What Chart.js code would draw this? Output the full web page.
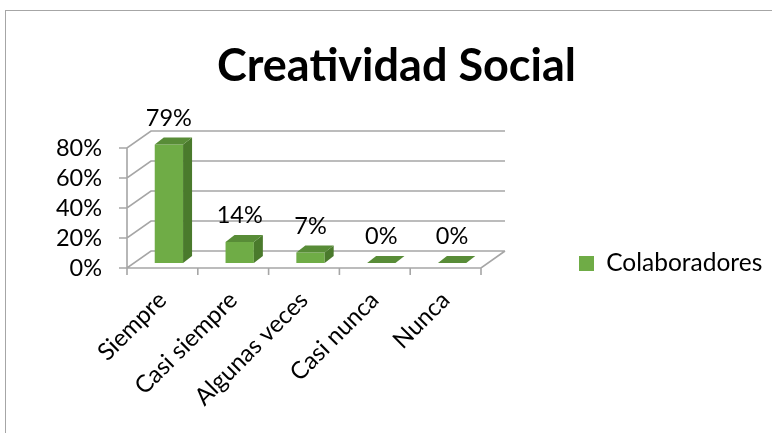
<!DOCTYPE html>
<html>
<head>
<meta charset="utf-8">
<script src="https://cdn.jsdelivr.net/npm/chart.js@4"></script>
<style>
  html, body { margin: 0; padding: 0; background: #fff; overflow: hidden; }
</style>
</head>
<body>
<canvas id="chart" width="772" height="433"></canvas>
<script>
const chartTitle = "Creatividad Social";
const categories = ["Siempre", "Casi siempre", "Algunas veces", "Casi nunca", "Nunca"];
const seriesName = "Colaboradores";
const colaboradores = [79, 14, 7, 0, 0];
const yTicks = [0, 20, 40, 60, 80];

// excel-like fake 3d
const WALL = { x: 24, y: -17 };      // back wall offset
const BAR_SHIFT = { x: 6.5, y: -5 }; // bars sit a bit into the floor
const BAR_DEPTH = { x: 9, y: -7 };
const GREEN = "#6fac46";
const GREEN_TOP = "#588c37";
const GREEN_SIDE = "#4a7a2c";
const FONT = "Lato";
const LEGEND_GAP = 98;   // from plot right edge to legend box
const LEGEND_DY = -2;    // legend centre vs plot bottom

const fake3d = {
  id: "fake3d",
  beforeDraw(chart) {
    const ctx = chart.ctx;
    ctx.save();
    ctx.fillStyle = "#fff";
    ctx.fillRect(0, 0, chart.width, chart.height);
    ctx.strokeStyle = "#a6a6a6";
    ctx.lineWidth = 1;
    ctx.strokeRect(5.5, 10.5, chart.width + 20, chart.height + 20);
    ctx.restore();
  },
  afterLayout(chart) {
    // legend lives in the chart area box, move it to the right of the plot
    const lg = chart.legend, a = chart.chartArea;
    const pad = lg.options.labels.padding;
    const lh = lg.options.labels.font.size * 1.2;
    const dx = a.right + LEGEND_GAP - (lg.left + pad);
    const dy = a.bottom + LEGEND_DY - lh / 2 - (lg.top + pad);
    lg.left += dx; lg.right += dx;
    lg.top += dy; lg.bottom += dy;
  },
  beforeDatasetsDraw(chart) {
    const { ctx, chartArea: a, scales: { x, y } } = chart;
    ctx.save();
    ctx.strokeStyle = "#a6a6a6";
    ctx.lineWidth = 1.6;
    ctx.beginPath();
    y.ticks.forEach(t => {
      const py = y.getPixelForValue(t.value);
      ctx.moveTo(a.left - 8, py);
      ctx.lineTo(a.left, py);
      ctx.lineTo(a.left + WALL.x, py + WALL.y);
      ctx.lineTo(a.right + WALL.x, py + WALL.y);
    });
    ctx.moveTo(a.left, y.getPixelForValue(y.max));
    ctx.lineTo(a.left, a.bottom);
    ctx.lineTo(a.right, a.bottom);
    ctx.lineTo(a.right + WALL.x, a.bottom + WALL.y);
    for (let i = 0; i <= categories.length; i++) {
      const px = x.getPixelForValue(i - 0.5);
      ctx.moveTo(px, a.bottom);
      ctx.lineTo(px, a.bottom + 7);
    }
    ctx.stroke();
    ctx.restore();

    ctx.save();
    ctx.translate(BAR_SHIFT.x, BAR_SHIFT.y);
  },
  afterDatasetsDraw(chart) {
    const ctx = chart.ctx;
    const meta = chart.getDatasetMeta(0);
    meta.data.forEach(bar => {
      const { x, y, base, width } = bar.getProps(["x", "y", "base", "width"], true);
      const l = x - width / 2, r = x + width / 2;
      const dx = BAR_DEPTH.x, dy = BAR_DEPTH.y;
      ctx.fillStyle = GREEN_SIDE;
      ctx.beginPath();
      ctx.moveTo(r, y);
      ctx.lineTo(r + dx, y + dy);
      ctx.lineTo(r + dx, base + dy);
      ctx.lineTo(r, base);
      ctx.closePath();
      ctx.fill();
      ctx.fillStyle = GREEN_TOP;
      ctx.beginPath();
      ctx.moveTo(l, y);
      ctx.lineTo(l + dx, y + dy);
      ctx.lineTo(r + dx, y + dy);
      ctx.lineTo(r, y);
      ctx.closePath();
      ctx.fill();
    });
    ctx.restore();

    // value labels
    ctx.save();
    ctx.font = "23.5px " + FONT;
    ctx.fillStyle = "#000";
    ctx.textAlign = "center";
    ctx.textBaseline = "alphabetic";
    meta.data.forEach((bar, i) => {
      ctx.fillText(colaboradores[i] + "%", bar.x + BAR_SHIFT.x, bar.y + BAR_SHIFT.y - 19);
    });
    ctx.restore();
  }
};

new Chart(document.getElementById("chart"), {
  type: "bar",
  data: {
    labels: categories,
    datasets: [{
      label: seriesName,
      data: colaboradores,
      backgroundColor: GREEN,
      borderWidth: 0,
      barPercentage: 0.4,
      categoryPercentage: 1,
      clip: false,
    }],
  },
  options: {
    responsive: false,
    animation: false,
    devicePixelRatio: 1,
    layout: { padding: { left: 25, right: 4, top: 0, bottom: 0 } },
    plugins: {
      title: {
        display: true,
        text: chartTitle,
        color: "#000",
        font: { family: FONT, size: 45, weight: "bold" },
        padding: { top: 39, bottom: 55 },
      },
      legend: {
        position: "chartArea",
        align: "start",
        labels: {
          color: "#000",
          font: { family: FONT, size: 24.5 },
          boxWidth: 15,
          boxHeight: 15,
          padding: 10,
        },
      },
      tooltip: { enabled: false },
    },
    scales: {
      x: {
        grid: { display: false, drawTicks: false },
        border: { display: false },
        ticks: {
          color: "#000",
          font: { family: FONT, size: 24 },
          minRotation: 45,
          maxRotation: 45,
          padding: 18,
          labelOffset: 0,
        },
        afterFit: s => { s.height = 165; },
      },
      y: {
        min: 0,
        max: 80,
        grid: { display: false, drawTicks: false },
        border: { display: false },
        ticks: {
          color: "#000",
          font: { family: FONT, size: 23.5 },
          padding: 25,
          autoSkip: false,
          callback: v => v + "%",
        },
        afterBuildTicks: s => { s.ticks = yTicks.map(v => ({ value: v })); },
        afterFit: s => { s.width = 102; },
      },
      // empty right-hand box that keeps room for the legend
      side: {
        position: "right",
        grid: { display: false, drawTicks: false },
        border: { display: false },
        ticks: { display: false },
        afterFit: s => { s.width = 287; },
      },
    },
  },
  plugins: [fake3d],
});
</script>
</body>
</html>
